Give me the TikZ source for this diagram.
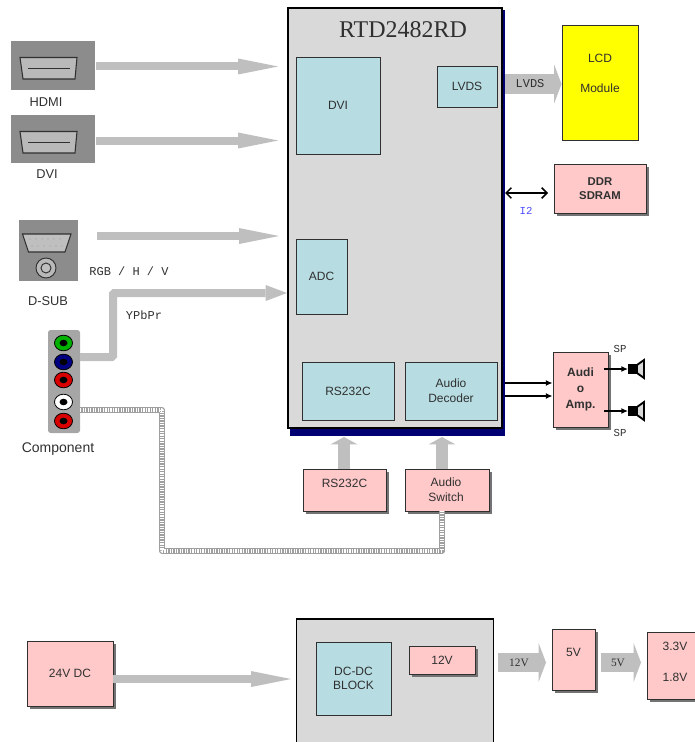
\documentclass[tikz,border=0pt]{standalone}
\usepackage{fontspec}
\setmainfont{Liberation Sans}
\setmonofont{Liberation Mono}
\newfontfamily\timesfont{Liberation Serif}
\usetikzlibrary{arrows.meta,shadows}
\definecolor{chipgray}{HTML}{D9D9D9}
\definecolor{chipblue}{HTML}{B7DDE2}
\definecolor{boxpink}{HTML}{FFC9C9}
\definecolor{arrowgray}{HTML}{BFBFBF}
\definecolor{icongray}{HTML}{8C8C8C}
\definecolor{labelblack}{HTML}{303030}
\definecolor{lcdyellow}{RGB}{255,255,0}
\tikzset{
  size/.style 2 args={minimum width=#1*0.75pt, minimum height=#2*0.75pt},
  sans/.style={font=\fontsize{9}{11}\selectfont, text=labelblack, align=center, inner sep=0pt},
  mono/.style={font=\fontsize{9}{10}\selectfont\ttfamily, text=labelblack, inner sep=0pt},
  serif/.style={font=\fontsize{8.5}{10}\selectfont\timesfont, text=labelblack, inner sep=0pt},
  chipbox/.style={draw=labelblack, line width=0.7pt, fill=chipblue, sans, inner sep=0pt},
  pinkbox/.style={draw=labelblack, line width=0.7pt, fill=boxpink, sans, inner sep=0pt,
    drop shadow={shadow xshift=2.2pt, shadow yshift=-2.2pt, fill=gray!90!black, opacity=1}},
  bigarrow/.style={draw=arrowgray, line width=6pt, -{Triangle[length=30pt,width=12pt,line width=0pt,fill=arrowgray]}},
  uparrow/.style={draw=arrowgray, line width=9pt, -{Triangle[length=5.5pt,width=20pt,line width=0pt,fill=arrowgray]}},
  fatarrow/.style={draw=arrowgray, line width=14.5pt, -{Triangle[length=5.5pt,width=29pt,line width=0pt,fill=arrowgray]}},
  thinarrow/.style={draw=black, line width=1.2pt, -{Latex[length=5pt,width=4.5pt]}},
  hatchline/.style={draw=gray!75, line width=3.9pt, line join=round,
    postaction={draw=white, line width=2.7pt, dash pattern=on 0.9pt off 1pt}},
  jack/.style={draw=black, line width=0.6pt, fill=#1},
}
\begin{document}
\begin{tikzpicture}[x=0.75pt, y=-0.75pt]
  \clip (0, 0) rectangle (695, 742);
  % main chip
  \node[fill=blue!45!black, size={215}{426}, inner sep=0pt] (rtdshadow) at (397.5, 223) {};
  \node[draw=black, line width=1.6pt, fill=chipgray, size={214}{420}, inner sep=0pt] (rtd) at (395, 218) {};
  \node[font=\fontsize{18}{20}\selectfont\timesfont, text=labelblack, inner sep=0pt] (rtdtitle) at (403, 30) {RTD2482RD};
  \node[chipbox, size={84}{97}] (dvichip) at (338, 105.5) {DVI};
  \node[chipbox, size={60}{41}] (lvdschip) at (467, 86.5) {LVDS};
  \node[chipbox, size={51}{75}] (adcchip) at (321.5, 276.5) {ADC};
  \node[chipbox, size={92}{58}] (rschip) at (348, 391) {RS232C};
  \node[chipbox, size={92}{58}] (audiochip) at (451, 391) {Audio\\Decoder};

  % inputs
  \node[fill=icongray, size={84}{49}, inner sep=0pt] (hdmi) at (53, 65.5) {};
  \node[fill=icongray, size={84}{48}, inner sep=0pt] (dvi) at (53, 139) {};
  \node[fill=icongray, size={59}{61}, inner sep=0pt] (dsub) at (48.5, 250.5) {};
  \foreach \yy in {0, 74} {
    \draw[line width=0.8pt, draw=labelblack, fill=gray!55] (20, 57.5 + \yy) -- (77, 57.5 + \yy) -- (75, 79 + \yy) -- (23, 79 + \yy) -- cycle;
    \draw[line width=0.7pt, draw=labelblack] (28, 68.5 + \yy) -- (70, 68.5 + \yy);
  }
  \draw[line width=0.8pt, draw=labelblack, fill=gray!50] (22.5, 234) -- (71, 234) -- (65, 252) -- (28.5, 252) -- cycle;
  \foreach \xx in {30, 36, ..., 62} { \fill[gray!80] (\xx, 239) circle (0.7); \fill[gray!80] (\xx + 2, 246) circle (0.7); }
  \draw[line width=0.7pt, draw=labelblack, fill=gray!55] (46, 268) circle (10);
  \draw[line width=0.7pt, draw=labelblack, fill=gray!50] (46, 268) circle (5);
  \node[sans, font=\fontsize{9.6}{11}\selectfont] (hdmilbl) at (46, 102) {HDMI};
  \node[sans, font=\fontsize{9.6}{11}\selectfont] (dvilbl) at (47, 174) {DVI};
  \node[sans, font=\fontsize{9.6}{11}\selectfont] (dsublbl) at (48, 301) {D-SUB};
  \node[mono] (rgblbl) at (129, 271) {RGB / H / V};
  \node[mono] (ypbprlbl) at (144, 315) {YPbPr};

  \coordinate (hdmiout) at (96, 66.5);
  \coordinate (dviout) at (96, 140.5);
  \coordinate (dsubout) at (97, 236);
  \coordinate (hdmiin) at (278, 66.5);
  \coordinate (dviin) at (278, 140.5);
  \coordinate (dsubin) at (279, 236);
  \draw[bigarrow] (hdmiout) -- (hdmiin);
  \draw[bigarrow] (dviout) -- (dviin);
  \draw[bigarrow] (dsubout) -- (dsubin);

  % component jacks
  \node[fill=gray!70, rounded corners=2pt, size={32}{103}, inner sep=0pt] (component) at (64, 381.5) {};
  \foreach \yy/\jackcol in {343/green!70!black, 362/blue!50!black, 380/red!85!black, 402/white, 421/red!85!black} {
    \draw[jack=\jackcol] (63.5, \yy) ellipse (9 and 7.8);
    \fill[black] (63.5, \yy) ellipse (4 and 3.3);
  }
  \node[sans, font=\fontsize{10.5}{12}\selectfont] (complbl) at (58, 449) {Component};
  \coordinate (ypbprout) at (80, 357);
  \coordinate (ypbprup) at (113, 293);
  \coordinate (ypbprin) at (287, 293);
  \draw[draw=arrowgray, line width=6pt, rounded corners=1pt, -{Triangle[length=16pt,width=12pt,line width=0pt,fill=arrowgray]}]
    (ypbprout) -| (ypbprup) -- (ypbprin);

  % output side
  \node[draw=labelblack, line width=0.7pt, fill=lcdyellow, size={76}{115}, inner sep=0pt] (lcd) at (600, 82.5) {};
  \node[sans] (lcdlbl) at (600, 58) {LCD};
  \node[sans] (modulelbl) at (600, 88) {Module};
  \coordinate (lvdsout) at (505, 84);
  \draw[fatarrow] (lvdsout) -- (lvdsout -| lcd.west);
  \node[mono] (lvdslbl) at (530, 84) {LVDS};

  \node[pinkbox, font=\bfseries\fontsize{8.5}{10.5}\selectfont, size={92}{49}] (ddr) at (600, 188.5) {DDR\\SDRAM};
  \coordinate (ddrport) at (505, 193);
  \coordinate (ddrend) at (548, 193);
  \draw[black, line width=1.1pt, {Straight Barb[length=4pt,width=8pt]}-{Straight Barb[length=4pt,width=8pt]}] (ddrport) -- (ddrend);
  \node[mono, text=blue!70!white, font=\fontsize{8}{10}\selectfont\ttfamily] (i2lbl) at (526, 211) {I2};

  \node[pinkbox, font=\bfseries\fontsize{9}{12}\selectfont, size={55}{75}] (amp) at (580.5, 389.5) {Audi\\o\\Amp.};
  \draw[thinarrow] (rtdshadow.east |- 0, 383) -- (amp.west |- 0, 383);
  \draw[thinarrow] (rtdshadow.east |- 0, 396) -- (amp.west |- 0, 396);
  % speakers
  \foreach \yy/\spk in {369/spka, 411/spkb} {
    \coordinate (\spk) at (628, \yy);
    \coordinate (\spk out) at (604, \yy);
    \draw[thinarrow] (\spk out) -- (\spk);
    \fill[black] (628, \yy - 5) rectangle (637, \yy + 5);
    \draw[black, line width=1.4pt, fill=gray!30] (637, \yy - 4) -- (644, \yy - 9) -- (644, \yy + 9) -- (637, \yy + 4) -- cycle;
  }
  \node[mono, font=\fontsize{8}{10}\selectfont\ttfamily] (splbla) at (620, 349) {SP};
  \node[mono, font=\fontsize{8}{10}\selectfont\ttfamily] (splblb) at (620, 433) {SP};

  % below the chip
  \node[pinkbox, size={83}{42}] (rsbox) at (344.5, 490) {};
  \node[pinkbox, size={84}{42}] (switchbox) at (447, 490) {};
  \node[sans] (rslbl) at (344.5, 483) {RS232C};
  \node[sans] (switchlbl) at (446, 490) {Audio\\Switch};
  \coordinate (rsup) at (344, 437);
  \coordinate (switchup) at (442, 437);
  \draw[uparrow] (rsbox.north -| rsup) -- (rsup);
  \draw[uparrow] (switchbox.north -| switchup) -- (switchup);
  \coordinate (audioout) at (80, 410);
  \coordinate (audioleft) at (162, 551);
  \draw[hatchline] (audioout) -| (audioleft) -| (switchbox.south -| switchup);

  % power
  \node[pinkbox, size={86}{65}] (dcin) at (70, 673.5) {24V DC};
  \node[draw=black, line width=1.3pt, fill=chipgray, size={197}{160}, inner sep=0pt] (dcbox) at (395, 699) {};
  \node[chipbox, size={75}{73}] (dcdc) at (353.5, 678.5) {DC-DC\\BLOCK};
  \node[pinkbox, size={66}{28}] (twelve) at (442, 660) {12V};
  \coordinate (dcend) at (291, 679);
  \draw[bigarrow] (dcin.east |- dcend) -- (dcend);
  \node[pinkbox, size={43}{61}] (fivev) at (573.5, 659.5) {};
  \node[sans] (fivelbl) at (573.5, 652) {5V};
  \node[pinkbox, size={52}{67}] (lowv) at (673, 665.5) {};
  \node[sans] (threelbl) at (675, 646) {3.3V};
  \node[sans] (onelbl) at (675, 677) {1.8V};
  \coordinate (twelveout) at (498, 662.5);
  \coordinate (fiveout) at (601, 662.5);
  \draw[fatarrow] (twelveout) -- (546, 662.5);
  \draw[fatarrow] (fiveout) -- (641, 662.5);
  \node[serif] (twelvelbl) at (519, 663) {12V};
  \node[serif] (fivevlbl) at (618, 663) {5V};
\end{tikzpicture}
\end{document}
